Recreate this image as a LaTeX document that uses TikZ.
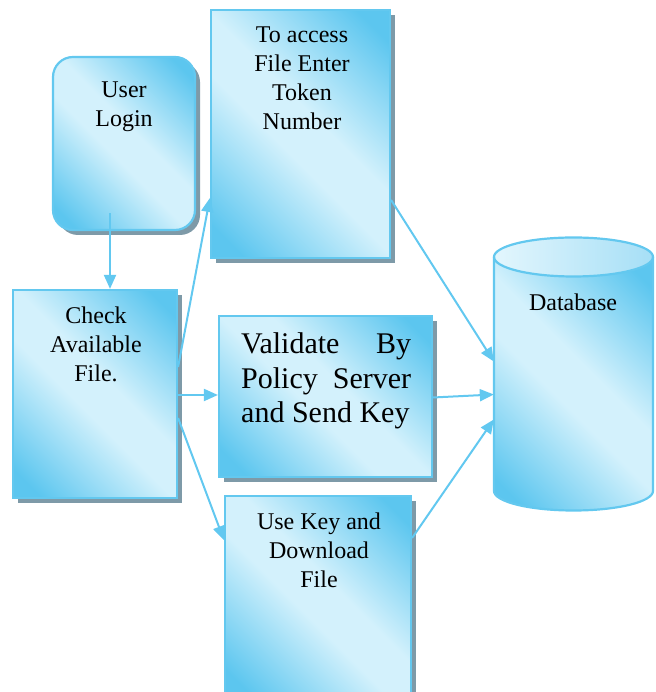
\documentclass[tikz,border=0pt]{standalone}
\usepackage{fontspec}
\setmainfont{Liberation Serif}
\usetikzlibrary{arrows.meta,shadows}

\definecolor{Edge}{HTML}{63C8EF}
\definecolor{Deep}{HTML}{5CC6EF}
\definecolor{Pale}{HTML}{D3F1FC}
\definecolor{ShadowC}{HTML}{7E9AA8}
\definecolor{CapLeft}{HTML}{E3F6FD}
\definecolor{CapRight}{HTML}{A6DFF6}
\definecolor{Wire}{HTML}{62C8F0}

% diagonal band: deep at two opposite corners, pale across the middle
\pgfdeclareverticalshading{boxband}{100bp}{%
  color(0bp)=(Deep); color(20bp)=(Deep); color(45bp)=(Pale);
  color(55bp)=(Pale); color(80bp)=(Deep); color(100bp)=(Deep)}

\tikzset{
  bandfill/.style={shade, shading=boxband, shading angle=135},
  flowbox/.style={draw=Edge, line width=2.2pt, bandfill,
    drop shadow={shadow xshift=5pt, shadow yshift=-5pt, fill=ShadowC, opacity=1},
    inner sep=0pt},
  lbl/.style={font=\fontsize{24}{29}\selectfont, align=center, anchor=base, inner sep=0pt},
  biglbl/.style={font=\fontsize{30}{34.5}\selectfont, align=justify, text width=170pt,
    anchor=base west, inner sep=0pt},
  arr/.style={draw=Wire, line width=2pt, -{Triangle[length=14pt,width=12pt]}, fill=Wire}
}

\begin{document}
\begin{tikzpicture}[x=1pt, y=1pt]
\useasboundingbox (0,0) rectangle (655,692);

% process boxes
\node[flowbox, rounded corners=20pt, minimum width=142pt, minimum height=173pt] (login) at (124,548.5) {};
\node[flowbox, minimum width=179pt, minimum height=248pt] (tok) at (300.5,558) {};
\node[flowbox, minimum width=164pt, minimum height=208pt] (chk) at (95,298) {};
\node[flowbox, minimum width=213pt, minimum height=161pt] (val) at (325.5,295.5) {};
\node[flowbox, minimum width=186pt, minimum height=204pt] (use) at (318,94) {};

% database cylinder
\node[inner sep=0pt, minimum width=159pt, minimum height=272pt] (db) at (573.5,318) {};
\path[bandfill]
  (494,435) -- (494,201) arc[start angle=180, end angle=360, x radius=79.5, y radius=19.5]
  -- (653,435) -- cycle;
\shade[left color=CapLeft, right color=CapRight]
  (573.5,435) ellipse[x radius=79.5, y radius=19.5];
\draw[draw=Edge, line width=2.2pt]
  (494,435) -- (494,201) arc[start angle=180, end angle=360, x radius=79.5, y radius=19.5]
  -- (653,435);
\draw[draw=Edge, line width=2.2pt] (573.5,435) ellipse[x radius=79.5, y radius=19.5];

% labels (base = baseline of the last line)
\node[lbl] (tLogin) at (124,565) {User\\Login};
\node[lbl] (tTok) at (302,562) {To access\\File Enter\\Token\\Number};
\node[lbl] (tChk) at (96,310) {Check\\Available\\File.};
\node[biglbl] (tVal) at (241,338) {Validate By Policy Server and Send Key};
\node[lbl] (tUse) at (319,104) {Use Key and\\Download\\File};
\node[lbl] (tDb) at (573,381) {Database};

% connectors
\draw[arr] ([xshift=-14pt, yshift=18pt]login.south) -- ([xshift=15pt]chk.north);
\draw[arr] ([yshift=27pt]chk.east) -- ([yshift=-64pt]tok.west);
\draw[arr] ([yshift=-1pt]chk.east) -- ([yshift=-1pt]chk.east -| val.west);
\draw[arr] ([yshift=-24pt]chk.east) -- ([yshift=58pt]use.west);
\draw[arr] ([yshift=-66pt]tok.east) -- ([yshift=12.5pt]db.west);
\draw[arr] ([yshift=-1pt]val.east) -- ([yshift=-20.5pt]db.west);
\draw[arr] ([yshift=60pt]use.east) -- ([yshift=-45.5pt]db.west);
\end{tikzpicture}
\end{document}
